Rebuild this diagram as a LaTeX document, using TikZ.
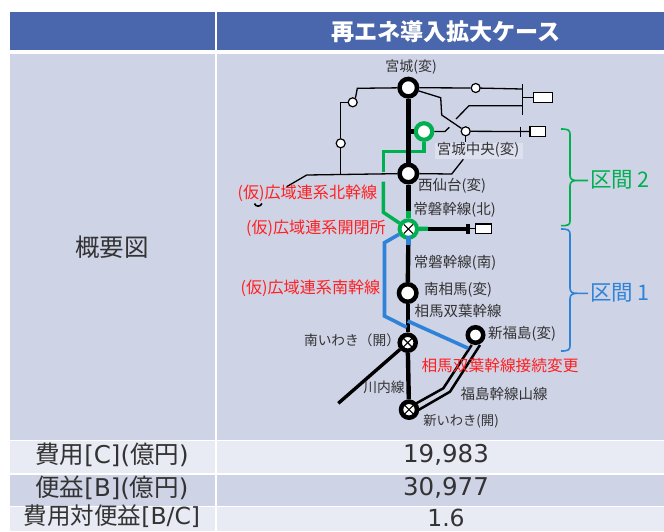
\documentclass[tikz,border=0pt]{standalone}
\usepackage{fontspec}
\setmainfont{Noto Sans CJK JP}
\newfontfamily\latinfont{DejaVu Sans}
\newcommand{\lat}[1]{{\latinfont #1}}
\definecolor{headblue}{HTML}{4A66AC}
\definecolor{rowdark}{HTML}{CFD3E6}
\definecolor{rowlight}{HTML}{E9EBF4}
\definecolor{labelgray}{HTML}{333333}
\definecolor{linegreen}{HTML}{00B050}
\definecolor{lineblue}{HTML}{2E83D9}
\definecolor{labelred}{HTML}{FF2020}
\tikzset{
    rowtext/.style={font=\fontsize{24.5}{24.5}\selectfont,text=labelgray,inner sep=0pt},
    place/.style={font=\fontsize{14.5}{14.5}\selectfont,text=labelgray,inner sep=0pt},
    redtext/.style={font=\fontsize{16.1}{16.1}\selectfont,text=labelred,inner sep=0pt},
    sectiontext/.style={font=\fontsize{21.5}{21.5}\selectfont,inner sep=0pt},
    station/.style={circle,draw=black,fill=white,line width=4.5pt,minimum size=17.5pt,inner sep=0pt},
    relay/.style={circle,draw=black,fill=white,line width=1.2pt,minimum size=9pt,inner sep=0pt},
    gear/.style={rectangle,draw=black,fill=white,line width=1.3pt,inner sep=0pt},
    thin line/.style={draw=black,line width=1.3pt},
    main line/.style={draw=black,line width=4.4pt},
    cross/.style={draw=black,line width=1.1pt},
}
\begin{document}
\begin{tikzpicture}[x=1pt,y=-1pt]
    \useasboundingbox (0,0) rectangle (664,531);
    % table
    \foreach \xa/\ya/\xb/\yb/\col in {10/12/215/50/headblue,217/12/664/50/headblue,
        10/54/215/439.5/rowdark,217/54/664/439.5/rowdark,
        10/441/215/473/rowlight,217/441/664/473/rowlight,
        10/474.5/215/505.5/rowdark,217/474.5/664/505.5/rowdark,
        10/507/215/531/rowlight,217/507/664/531/rowlight}
    {
        \fill[\col] (\xa,\ya) rectangle (\xb,\yb);
    }
    \node[font=\fontsize{23.1}{23.1}\selectfont\bfseries,text=white] (title) at (446,32) {再エネ導入拡大ケース};
    \node[rowtext] (outline) at (112,247) {概要図};
    \node[rowtext] (costlabel) at (112,455) {費用\lat{[C](}億円\lat{)}};
    \node[rowtext] (benefitlabel) at (112,488) {便益\lat{[B](}億円\lat{)}};
    \node[rowtext,font=\fontsize{23.5}{23.5}\selectfont] (ratiolabel) at (112,516.5) {費用対便益\lat{[B/C]}};
    \node[rowtext] (costvalue) at (446,455) {\lat{19,983}};
    \node[rowtext] (benefitvalue) at (446,488) {\lat{30,977}};
    \node[rowtext,font=\fontsize{23.5}{23.5}\selectfont] (ratiovalue) at (446,518) {\lat{1.6}};
    % label patch
    \fill[rowlight!55!rowdark] (435,142.5) rectangle (523,158.5);
    % stations
    \node[station] (miyagi) at (408.3,87.7) {};
    \node[station] (nishisendai) at (408.3,173.5) {};
    \node[station] (minamisoma) at (407.7,293) {};
    \node[station,minimum size=15.5pt] (shinfukushima) at (475.5,335) {};
    \node[station,draw=linegreen,minimum size=16.5pt,line width=4.2pt] (chuo) at (424,131.5) {};
    \node[station,draw=linegreen,line width=4pt] (kaiheisho) at (408.3,229) {};
    \node[station,minimum size=16pt] (minamiiwaki) at (407.7,342.7) {};
    \node[station,minimum size=16pt] (shiniwaki) at (409,409.7) {};
    \foreach \n in {kaiheisho,minamiiwaki,shiniwaki}
    {
        \draw[cross] (\n.center) ++(-4.5,-4.5) -- ++(9,9);
        \draw[cross] (\n.center) ++(-4.5,4.5) -- ++(9,-9);
    }
    \node[relay] (relaya) at (352.7,102.3) {};
    \node[relay] (relayb) at (340.7,143.3) {};
    \node[relay] (relayc) at (475.7,88) {};
    \node[relay] (relayd) at (465.7,131.3) {};
    \node[gear,minimum width=19pt,minimum height=10pt] (geara) at (543,97.7) {};
    \node[gear,minimum width=15.5pt,minimum height=10pt] (gearb) at (537.8,131.5) {};
    \node[gear,minimum width=16pt,minimum height=9.5pt] (gearc) at (483.7,228.7) {};
    \coordinate (barat) at (522.3,83.5);
    \coordinate (barab) at (522.3,114.5);
    \coordinate (bara) at (522.3,97.7);
    \coordinate (barb) at (520.7,131.5);
    \coordinate (barbt) at (520.7,126.5);
    \coordinate (barbb) at (520.7,136.5);
    \coordinate (barc) at (468,228.7);
    \coordinate (lowa) at (416.7,411);
    \coordinate (lowb) at (480,345);
    \coordinate (upa) at (413.3,405);
    \coordinate (upb) at (471.7,345);
    % thin lines
    \draw[thin line] (miyagi) -- (357.3,88.3) -- (355.7,96.7) -- (relaya);
    \draw[thin line] (relaya) -- (340.7,102.3) -- (relayb) -- (340.7,175);
    \draw[thin line] (nishisendai) -- (306.7,175) -- (286.7,186.7);
    \draw[thin line] (miyagi) -- (relayc) -- (522.3,89);
    \draw[thin line] (barat) -- (barab);
    \draw[thin line] (bara) -- (geara);
    \draw[thin line] (456,119) -- (469,105.7) -- (522.3,105.7);
    \draw[thin line] (miyagi) -- (440.7,97.7) -- (441.7,115) -- (relayd);
    \draw[thin line] (chuo) -- (445,131.5) -- (449.3,127.3);
    \draw[thin line] (relayd) -- (barb) -- (gearb);
    \draw[thin line] (barbt) -- (barbb);
    \draw[thin line] (relayd) -- (465.7,141.7);
    \draw[thin line] (463.3,159.3) -- (451.7,174) -- (nishisendai);
    \draw[line width=1.6pt] (254.5,203.5) .. controls (255.5,207) and (260.5,207) .. (262,203.5);
    % green
    \draw[linegreen,line width=3.5pt] (chuo) -- (424,151.7) -- (383.3,151.7) -- (383.3,171.7);
    \draw[linegreen,line width=3.5pt] (383.3,181.7) -- (383.3,212.3) -- (kaiheisho);
    \draw[linegreen,line width=4.4pt] (408.3,211) -- (kaiheisho);
    \draw[linegreen,line width=4.4pt] (kaiheisho) -- (428,228.7);
    % trunk lines
    \draw[main line] (miyagi) -- (nishisendai);
    \draw[main line] (nishisendai) -- (408.3,211);
    \draw[main line] (408.3,245) -- (minamisoma);
    \draw[main line] (minamisoma) -- (minamiiwaki);
    \draw[main line] (minamiiwaki) -- (shiniwaki);
    \draw[main line] (408.3,131.5) -- (chuo);
    \draw[main line] (428,228.7) -- (barc);
    \draw[line width=4.4pt] (barc) ++(0,-5) -- ++(0,10);
    \draw[thin line] (barc) -- (gearc);
    \draw[line width=3.4pt] (minamiiwaki) -- (338.3,403.3);
    \draw[line width=2.5pt] (upa) -- (443.3,388.3) -- (upb);
    \draw[line width=2.5pt] (lowa) -- (450,391.7) -- (lowb);
    % blue
    \draw[lineblue,line width=3.6pt] (kaiheisho) -- (384.5,242.7) -- (384.5,316) -- (406.7,327.3);
    \draw[lineblue,line width=3.6pt] (407.7,321) -- (468.3,348.3);
    \draw[lineblue,line width=4.4pt] (408.3,236) -- (408.3,245);
    % brackets
    \draw[linegreen,line width=1.6pt] (561,129) .. controls (568,129) and (570,130) .. (570,134)
        -- (570,175) .. controls (570,179) and (572,180.5) .. (577,180.5) -- (588,180.5)
        (577,180.5) .. controls (572,180.5) and (570,182) .. (570,186) -- (570,221)
        .. controls (570,225) and (568,225.7) .. (561,225.7);
    \draw[lineblue,line width=1.6pt] (561,229) .. controls (568,229) and (570,230) .. (570,234)
        -- (570,288) .. controls (570,292) and (572,293.3) .. (577,293.3) -- (588,293.3)
        (577,293.3) .. controls (572,293.3) and (570,295) .. (570,299) -- (570,346)
        .. controls (570,350) and (568,351) .. (561,351);
    \node[sectiontext,text=linegreen] (sectiontwo) at (620,180) {区間 2};
    \node[sectiontext,text=lineblue] (sectionone) at (620,293) {区間 1};
    % labels
    \node[place,font=\fontsize{14}{14}\selectfont] (lmiyagi) at (411,67) {宮城(変)};
    \node[place] (lchuo) at (478,150) {宮城中央(変)};
    \node[place] (lnishi) at (452,186) {西仙台(変)};
    \node[place] (ljobann) at (454.5,209.5) {常磐幹線(北)};
    \node[place] (ljobans) at (455,262.5) {常磐幹線(南)};
    \node[place] (lsoma) at (458,289.5) {南相馬(変)};
    \node[place] (lsomaline) at (458,311) {相馬双葉幹線};
    \node[place] (lfuku) at (522,333.5) {新福島(変)};
    \node[place,font=\fontsize{13.7}{13.7}\selectfont] (lmiwaki) at (352,340) {南いわき（開）};
    \node[place,font=\fontsize{13.8}{13.8}\selectfont] (lsendai) at (384,387) {川内線};
    \node[place] (lyama) at (504,394) {福島幹線山線};
    \node[place,font=\fontsize{13.3}{13.3}\selectfont] (lshiwaki) at (461,421) {新いわき(開)};
    \node[redtext] (rnorth) at (307.5,193) {(仮)広域連系北幹線};
    \node[redtext] (rsw) at (316,228) {(仮)広域連系開閉所};
    \node[redtext] (rsouth) at (310.5,288) {(仮)広域連系南幹線};
    \node[redtext,font=\fontsize{15.7}{15.7}\selectfont] (rchange) at (500,366) {相馬双葉幹線接続変更};
\end{tikzpicture}
\end{document}
